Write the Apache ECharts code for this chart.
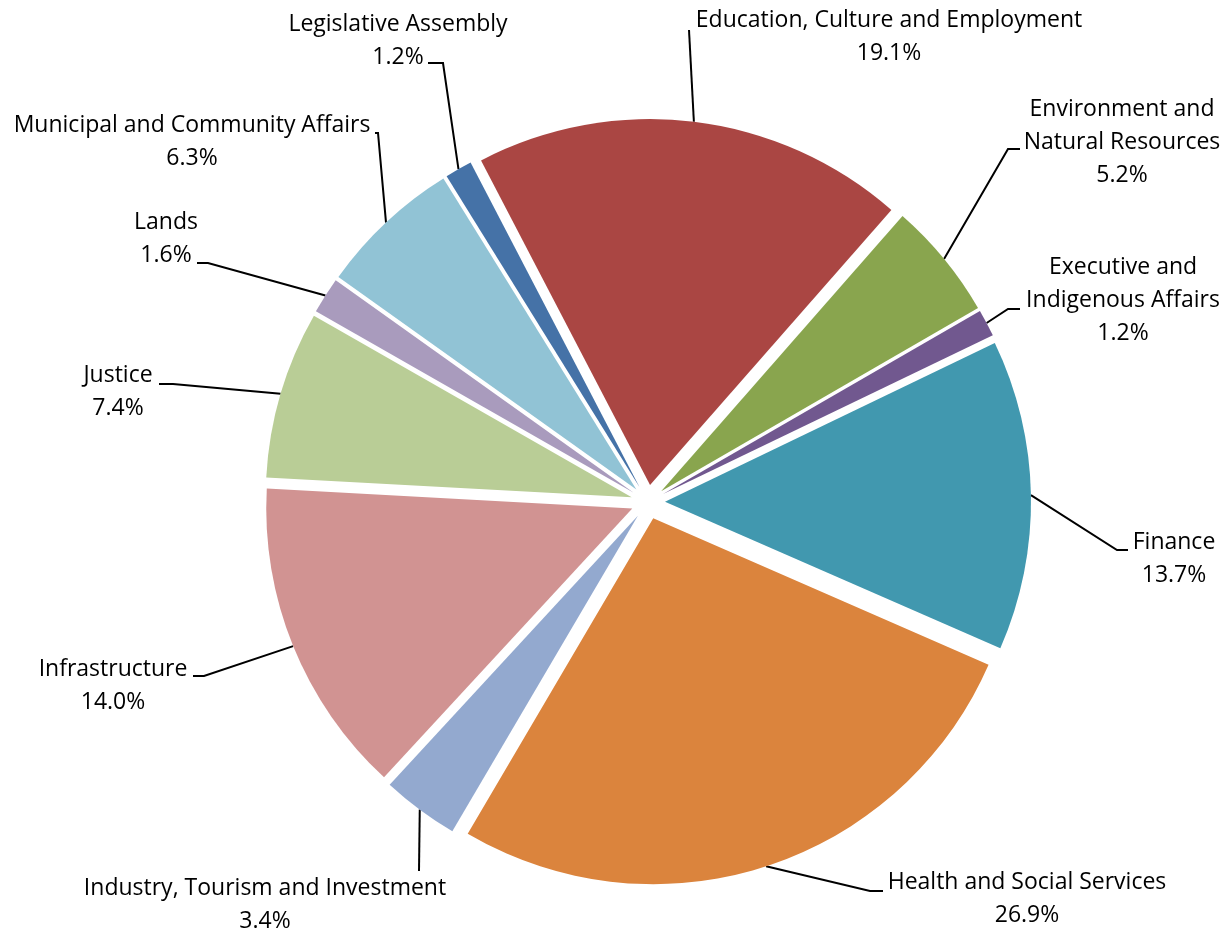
<!DOCTYPE html>
<html>
<head>
<meta charset="utf-8">
<script src="https://cdn.jsdelivr.net/npm/echarts@6/dist/echarts.min.js"></script>
<style>
  html, body { margin: 0; padding: 0; background: #ffffff; }
  #chart { width: 1228px; height: 934px; }
</style>
</head>
<body>
<div id="chart"></div>
<script>
// Departmental shares of spending, clockwise from the top
const categories = [
  'Education, Culture and Employment',
  'Environment and\nNatural Resources',
  'Executive and\nIndigenous Affairs',
  'Finance',
  'Health and Social Services',
  'Industry, Tourism and Investment',
  'Infrastructure',
  'Justice',
  'Lands',
  'Municipal and Community Affairs',
  'Legislative Assembly'
];
const shares = [19.1, 5.2, 1.2, 13.7, 26.9, 3.4, 14.0, 7.4, 1.6, 6.3, 1.2];

const sliceColors = [
  '#AA4643', '#89A54E', '#71588F', '#4198AF', '#DB843D', '#93A9CF',
  '#D19392', '#B9CD96', '#A99BBD', '#91C3D5', '#4572A7'
];

// Pie geometry
const pieCenter = [648, 502];
const pieRadius = 366;
const explode = 17;
const startAngle = 117.5;

// Where each label block sits, and the elbow / end of its leader line
const labelSpots = [
  { x: 889,  y: 37,    elbow: [689, 30],   end: [689, 30] },
  { x: 1122, y: 142,   elbow: [1008, 149], end: [1020, 149] },
  { x: 1123, y: 300,   elbow: [1008, 309], end: [1020, 309] },
  { x: 1174, y: 559,   elbow: [1117, 550], end: [1128, 550] },
  { x: 1027, y: 899,   elbow: [870, 891],  end: [883, 891] },
  { x: 265,  y: 905,   elbow: [419, 871],  end: [419, 871] },
  { x: 113,  y: 686,   elbow: [204, 676],  end: [193, 676] },
  { x: 118,  y: 392,   elbow: [173, 384],  end: [159, 384] },
  { x: 166,  y: 239,   elbow: [208, 263],  end: [197, 263] },
  { x: 192,  y: 141.5, elbow: [378, 133],  end: [375, 133] },
  { x: 398,  y: 40.5,  elbow: [443, 63],   end: [428, 63] }
];

const chart = echarts.init(document.getElementById('chart'), null, { renderer: 'canvas' });

chart.setOption({
  animation: false,
  series: [
    {
      // exploded slices
      type: 'pie',
      center: pieCenter,
      radius: pieRadius,
      startAngle: startAngle,
      clockwise: true,
      selectedMode: 'multiple',
      selectedOffset: explode,
      emphasis: { disabled: true },
      label: { show: false },
      labelLine: { show: false },
      data: categories.map((name, i) => ({
        name: name,
        value: shares[i],
        selected: true,
        itemStyle: { color: sliceColors[i] }
      }))
    },
    {
      // label carrier: its outer rim runs through the exploded slices' rim midpoints
      type: 'pie',
      center: pieCenter,
      radius: pieRadius + explode,
      startAngle: startAngle,
      clockwise: true,
      silent: true,
      avoidLabelOverlap: false,
      emphasis: { disabled: true },
      itemStyle: { color: 'rgba(0,0,0,0)' },
      data: categories.map((name, i) => ({ name: name, value: shares[i] })),
      label: {
        show: true,
        position: 'outside',
        formatter: p => p.name + '\n' + p.value.toFixed(1) + '%',
        color: '#000000',
        fontFamily: 'Open Sans',
        fontSize: 23,
        lineHeight: 33,
        align: 'center'
      },
      labelLine: {
        show: true,
        length: 10,
        length2: 10,
        lineStyle: { color: '#000000', width: 2 }
      },
      labelLayout: function (params) {
        const spot = labelSpots[params.dataIndex];
        const pts = params.labelLinePoints;
        return {
          x: spot.x,
          y: spot.y,
          align: 'center',
          verticalAlign: 'middle',
          labelLinePoints: [pts[0], spot.elbow, spot.end]
        };
      }
    }
  ]
});
</script>
</body>
</html>
